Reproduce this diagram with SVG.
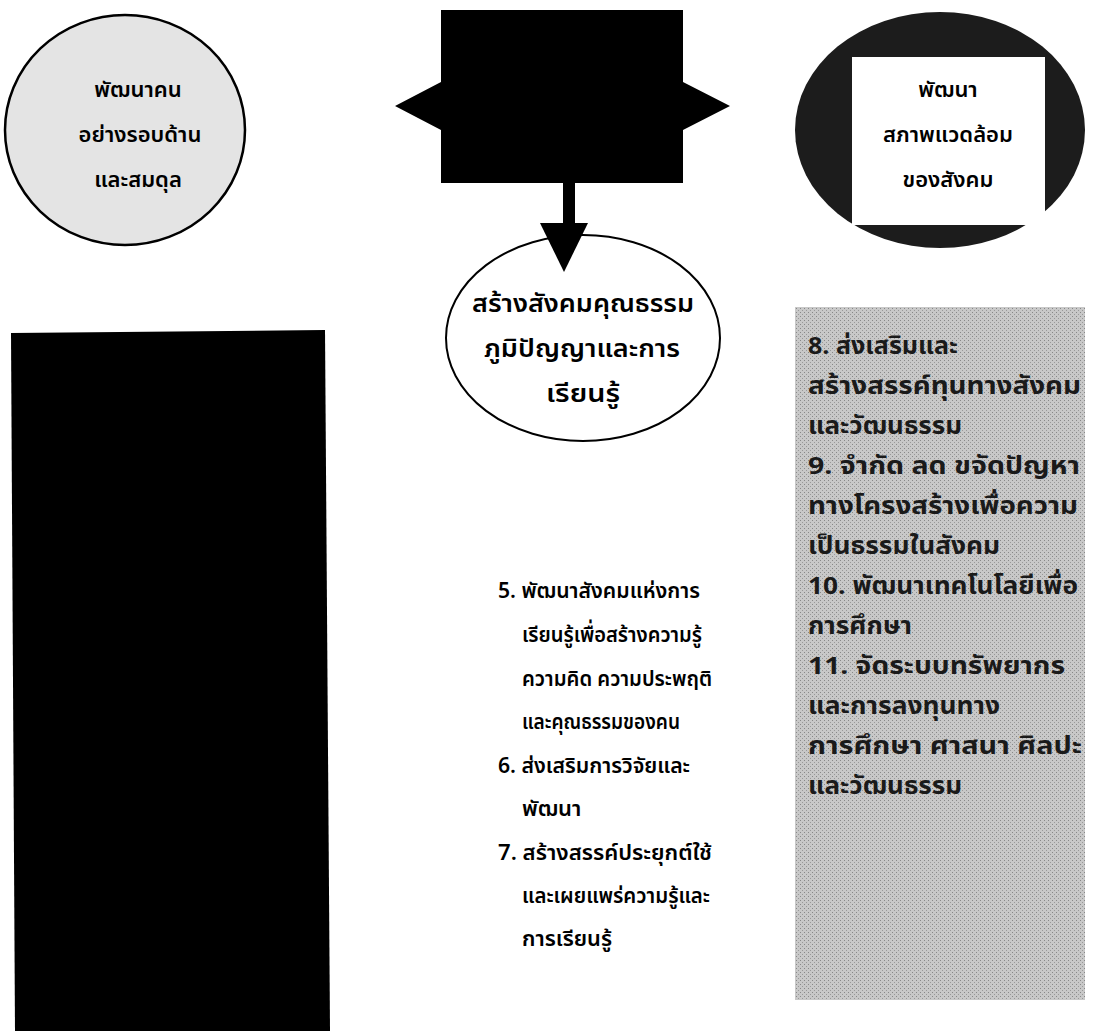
<svg xmlns="http://www.w3.org/2000/svg" width="1095" height="1031" viewBox="0 0 1095 1031">
<defs>
<style>
.t{font-family:"Noto Sans Thai","Noto Sans",sans-serif;font-size:22px;font-weight:600;fill:#000;}
.c{text-anchor:middle;}
.big{font-size:24px;}
.r{font-size:24px;font-weight:bold;fill:#1a1a1a;}
</style>
<pattern id="dots" width="4" height="4" patternUnits="userSpaceOnUse">
<rect width="4" height="4" fill="#c8c8c8"/>
<rect x="0" y="0" width="1" height="1" fill="#888"/>
<rect x="2" y="2" width="1" height="1" fill="#999"/>
</pattern>
</defs>
<rect width="1095" height="1031" fill="#fff"/>
<g id="node-left-circle">
<ellipse cx="125" cy="130" rx="120" ry="115" fill="#e4e4e4" stroke="#000" stroke-width="2.5"/>
<text class="t c" x="138" y="97">พัฒนาคน</text>
<text class="t c" x="140" y="142">อย่างรอบด้าน</text>
<text class="t c" x="138" y="187">และสมดุล</text>
</g>
<g id="node-top-center">
<polygon points="441,10 683,10 683,82 730,106 683,130 683,183 441,183 441,130 395,106 441,82" fill="#000"/>
</g>
<g id="node-right-circle">
<ellipse cx="940" cy="130" rx="145" ry="118" fill="#1c1c1c"/>
<rect x="852" y="57" width="193" height="168" fill="#fff"/>
<text class="t c" x="948" y="97">พัฒนา</text>
<text class="t c" x="948" y="142">สภาพแวดล้อม</text>
<text class="t c" x="948" y="187">ของสังคม</text>
</g>
<g id="node-center-ellipse">
<ellipse cx="583" cy="338" rx="137" ry="103" fill="#fff" stroke="#000" stroke-width="2"/>
<text class="t c big" x="583" y="312" textLength="222" lengthAdjust="spacingAndGlyphs">สร้างสังคมคุณธรรม</text>
<text class="t c big" x="582" y="357" textLength="196" lengthAdjust="spacingAndGlyphs">ภูมิปัญญาและการ</text>
<text class="t c big" x="583" y="402" textLength="74" lengthAdjust="spacingAndGlyphs">เรียนรู้</text>
</g>
<g id="node-left-block">
<polygon points="11,333 325,330 330,1031 15,1031" fill="#000"/>
</g>
<g id="node-center-list">
<text class="t" x="498" y="598" textLength="202" lengthAdjust="spacingAndGlyphs">5. พัฒนาสังคมแห่งการ</text>
<text class="t" x="522" y="642" textLength="180" lengthAdjust="spacingAndGlyphs">เรียนรู้เพื่อสร้างความรู้</text>
<text class="t" x="522" y="686" textLength="190" lengthAdjust="spacingAndGlyphs">ความคิด ความประพฤติ</text>
<text class="t" x="522" y="729" textLength="158" lengthAdjust="spacingAndGlyphs">และคุณธรรมของคน</text>
<text class="t" x="498" y="773" textLength="192" lengthAdjust="spacingAndGlyphs">6. ส่งเสริมการวิจัยและ</text>
<text class="t" x="522" y="816">พัฒนา</text>
<text class="t" x="498" y="860" textLength="214" lengthAdjust="spacingAndGlyphs">7. สร้างสรรค์ประยุกต์ใช้</text>
<text class="t" x="522" y="903" textLength="188" lengthAdjust="spacingAndGlyphs">และเผยแพร่ความรู้และ</text>
<text class="t" x="522" y="946" textLength="90" lengthAdjust="spacingAndGlyphs">การเรียนรู้</text>
</g>
<g id="node-right-panel">
<rect x="795" y="307" width="290" height="693" fill="url(#dots)"/>
<text class="t r" x="808" y="354" textLength="150" lengthAdjust="spacingAndGlyphs">8. ส่งเสริมและ</text>
<text class="t r" x="808" y="394" textLength="273" lengthAdjust="spacingAndGlyphs">สร้างสรรค์ทุนทางสังคม</text>
<text class="t r" x="808" y="434" textLength="154" lengthAdjust="spacingAndGlyphs">และวัฒนธรรม</text>
<text class="t r" x="808" y="474" textLength="272" lengthAdjust="spacingAndGlyphs">9. จำกัด ลด ขจัดปัญหา</text>
<text class="t r" x="808" y="514" textLength="270" lengthAdjust="spacingAndGlyphs">ทางโครงสร้างเพื่อความ</text>
<text class="t r" x="808" y="554" textLength="192" lengthAdjust="spacingAndGlyphs">เป็นธรรมในสังคม</text>
<text class="t r" x="808" y="594" textLength="270" lengthAdjust="spacingAndGlyphs">10. พัฒนาเทคโนโลยีเพื่อ</text>
<text class="t r" x="808" y="634" textLength="104" lengthAdjust="spacingAndGlyphs">การศึกษา</text>
<text class="t r" x="808" y="674" textLength="257" lengthAdjust="spacingAndGlyphs">11. จัดระบบทรัพยากร</text>
<text class="t r" x="808" y="714" textLength="192" lengthAdjust="spacingAndGlyphs">และการลงทุนทาง</text>
<text class="t r" x="808" y="754" textLength="274" lengthAdjust="spacingAndGlyphs">การศึกษา ศาสนา ศิลปะ</text>
<text class="t r" x="808" y="794" textLength="154" lengthAdjust="spacingAndGlyphs">และวัฒนธรรม</text>
</g>
<g id="connectors">
<rect x="563" y="182" width="12" height="44" fill="#000"/>
<polygon points="540,223 588,223 564,272" fill="#000"/>
</g>
</svg>
